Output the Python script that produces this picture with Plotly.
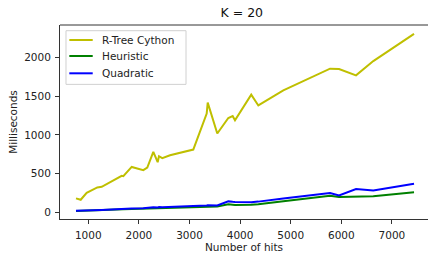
import plotly.graph_objects as go

hits = [757, 850, 968, 1067, 1178, 1265, 1660, 1692, 1858, 2087, 2166, 2285, 2371, 2397,
        2462, 2615, 3075, 3340, 3360, 3549, 3767, 3853, 3899, 4220, 4360, 4854, 5777,
        5955, 6291, 6632, 7437]
rtree_cython = [177, 159, 249, 284, 319, 327, 469, 465, 584, 543, 577, 779, 646, 723,
                698, 736, 809, 1275, 1417, 1017, 1218, 1244, 1189, 1520, 1380, 1576, 1856,
                1851, 1770, 1955, 2308]
heuristic = [15, 18, 22, 25, 28, 27, 35, 36, 40, 45, 44, 50, 45, 55,
             52, 58, 65, 72, 74, 72, 100, 95, 90, 95, 100, 140, 210,
             195, 198, 205, 255]
quadratic = [17, 20, 25, 28, 30, 28, 38, 40, 45, 50, 55, 62, 58, 65,
             62, 68, 78, 85, 88, 85, 138, 132, 130, 128, 135, 175, 245,
             216, 297, 280, 366]
series_names = ["R-Tree Cython", "Heuristic", "Quadratic"]
series_colors = ["#bfbf00", "#008000", "#0000ff"]
series_values = [rtree_cython, heuristic, quadratic]

FONT = "DejaVu Sans"
FS = 10.5
fig = go.Figure()
for name, color, vals in zip(series_names, series_colors, series_values):
    fig.add_trace(go.Scatter(x=hits, y=vals, mode="lines", name=name,
                             line=dict(color=color, width=2), showlegend=False))

# manual legend (paper coordinates), matplotlib-style compact box
shapes = [dict(type="line", xref="paper", yref="paper", x0=0, x1=1, y0=1, y1=1,
               line=dict(color="#333", width=1)),
          dict(type="rect", xref="paper", yref="paper", x0=0.0163, x1=0.3424,
               y0=0.694, y1=0.9706, fillcolor="rgba(255,255,255,0.85)",
               line=dict(color="#d0d0d0", width=1))]
annotations = []
row_y = [0.9227, 0.8402, 0.751]
for name, color, yy in zip(series_names, series_colors, row_y):
    shapes.append(dict(type="line", xref="paper", yref="paper", x0=0.0253, x1=0.0889,
                       y0=yy, y1=yy, line=dict(color=color, width=2)))
    annotations.append(dict(text=name, xref="paper", yref="paper", x=0.108, y=yy,
                            xanchor="left", yanchor="middle", showarrow=False,
                            font=dict(size=FS, color="#222", family=FONT)))

fig.update_layout(
    width=428, height=255,
    margin=dict(l=60, r=0, t=25, b=36, autoexpand=False),
    paper_bgcolor="white", plot_bgcolor="white",
    font=dict(family=FONT, size=FS, color="#222"),
    title=dict(text="K = 20", x=0.565, xanchor="center", y=0.95, yanchor="middle",
               font=dict(size=12.5, color="#111")),
    showlegend=False,
    xaxis=dict(range=[441, 7713], tickvals=[1000, 2000, 3000, 4000, 5000, 6000, 7000],
               automargin=False,
               showgrid=False, zeroline=False, showline=True, linecolor="#333", linewidth=1,
               ticks="outside", ticklen=4, tickcolor="#333", ticklabelstandoff=2,
               tickfont=dict(size=FS),
               title=dict(text="Number of hits", standoff=2, font=dict(size=FS))),
    yaxis=dict(range=[-90, 2422], tickvals=[0, 500, 1000, 1500, 2000],
               automargin=False,
               showgrid=False, zeroline=False, showline=True, linecolor="#333", linewidth=1,
               ticks="outside", ticklen=4, tickcolor="#333", ticklabelstandoff=2,
               tickfont=dict(size=FS),
               title=dict(text="Milliseconds", standoff=4, font=dict(size=FS))),
    shapes=shapes,
    annotations=annotations,
)

fig.write_html("out.html", config={"displayModeBar": False},
               post_script="document.body.style.margin='0';document.body.style.padding='0';")
